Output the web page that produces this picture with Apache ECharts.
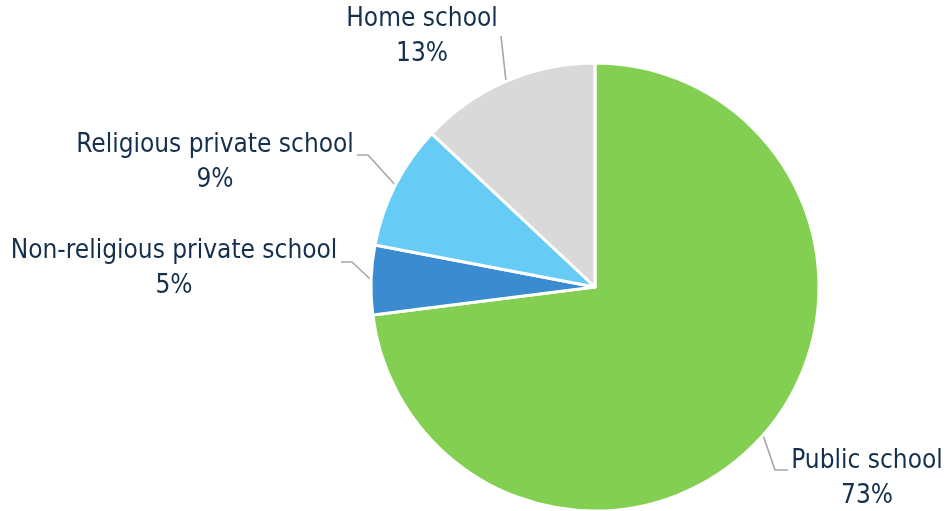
<!DOCTYPE html>
<html>
<head>
<meta charset="utf-8">
<script src="https://cdn.jsdelivr.net/npm/echarts@6/dist/echarts.min.js"></script>
<style>html,body{margin:0;padding:0;background:#fff;}#c{width:948px;height:511px;}</style>
</head>
<body>
<div id="c"></div>
<script>
const categories = ['Public school', 'Non-religious private school', 'Religious private school', 'Home school'];
const values = [73, 5, 9, 13];
const colors = ['#82CF52', '#3A8BD0', '#66CCF6', '#D9D9D9'];

// label placement (centers) and label line bends
const labelPos = [[867, 479], [174, 269], [215, 163], [422, 37]];
const lineBends = [
  [[775, 470], [788, 470]],
  [[352, 262], [341, 262]],
  [[368, 155], [357, 155]],
  [[501, 36], [501, 36]]
];

const chart = echarts.init(document.getElementById('c'));
chart.setOption({
  animation: false,
  series: [{
    type: 'pie',
    center: [595, 287],
    radius: 224,
    startAngle: 90,
    clockwise: true,
    data: categories.map((n, i) => ({ name: n, value: values[i], itemStyle: { color: colors[i] } })),
    itemStyle: { borderColor: '#fff', borderWidth: 3 },
    label: {
      show: true,
      formatter: '{b}\n{c}%',
      fontFamily: '"Liberation Sans Narrow", "Arial Narrow", "DejaVu Sans Condensed", sans-serif',
      fontSize: 26,
      lineHeight: 35,
      color: '#14304D',
      align: 'center',
      overflow: 'none',
      width: 400
    },
    labelLine: { show: true, lineStyle: { color: '#A6A6A6', width: 1.6 } },
    labelLayout: function (p) {
      const i = p.dataIndex;
      const start = p.labelLinePoints ? p.labelLinePoints[0] : null;
      const res = {
        x: labelPos[i][0],
        y: labelPos[i][1],
        align: 'center',
        verticalAlign: 'middle'
      };
      if (start) res.labelLinePoints = [start, lineBends[i][0], lineBends[i][1]];
      return res;
    }
  }]
});
</script>
</body>
</html>
